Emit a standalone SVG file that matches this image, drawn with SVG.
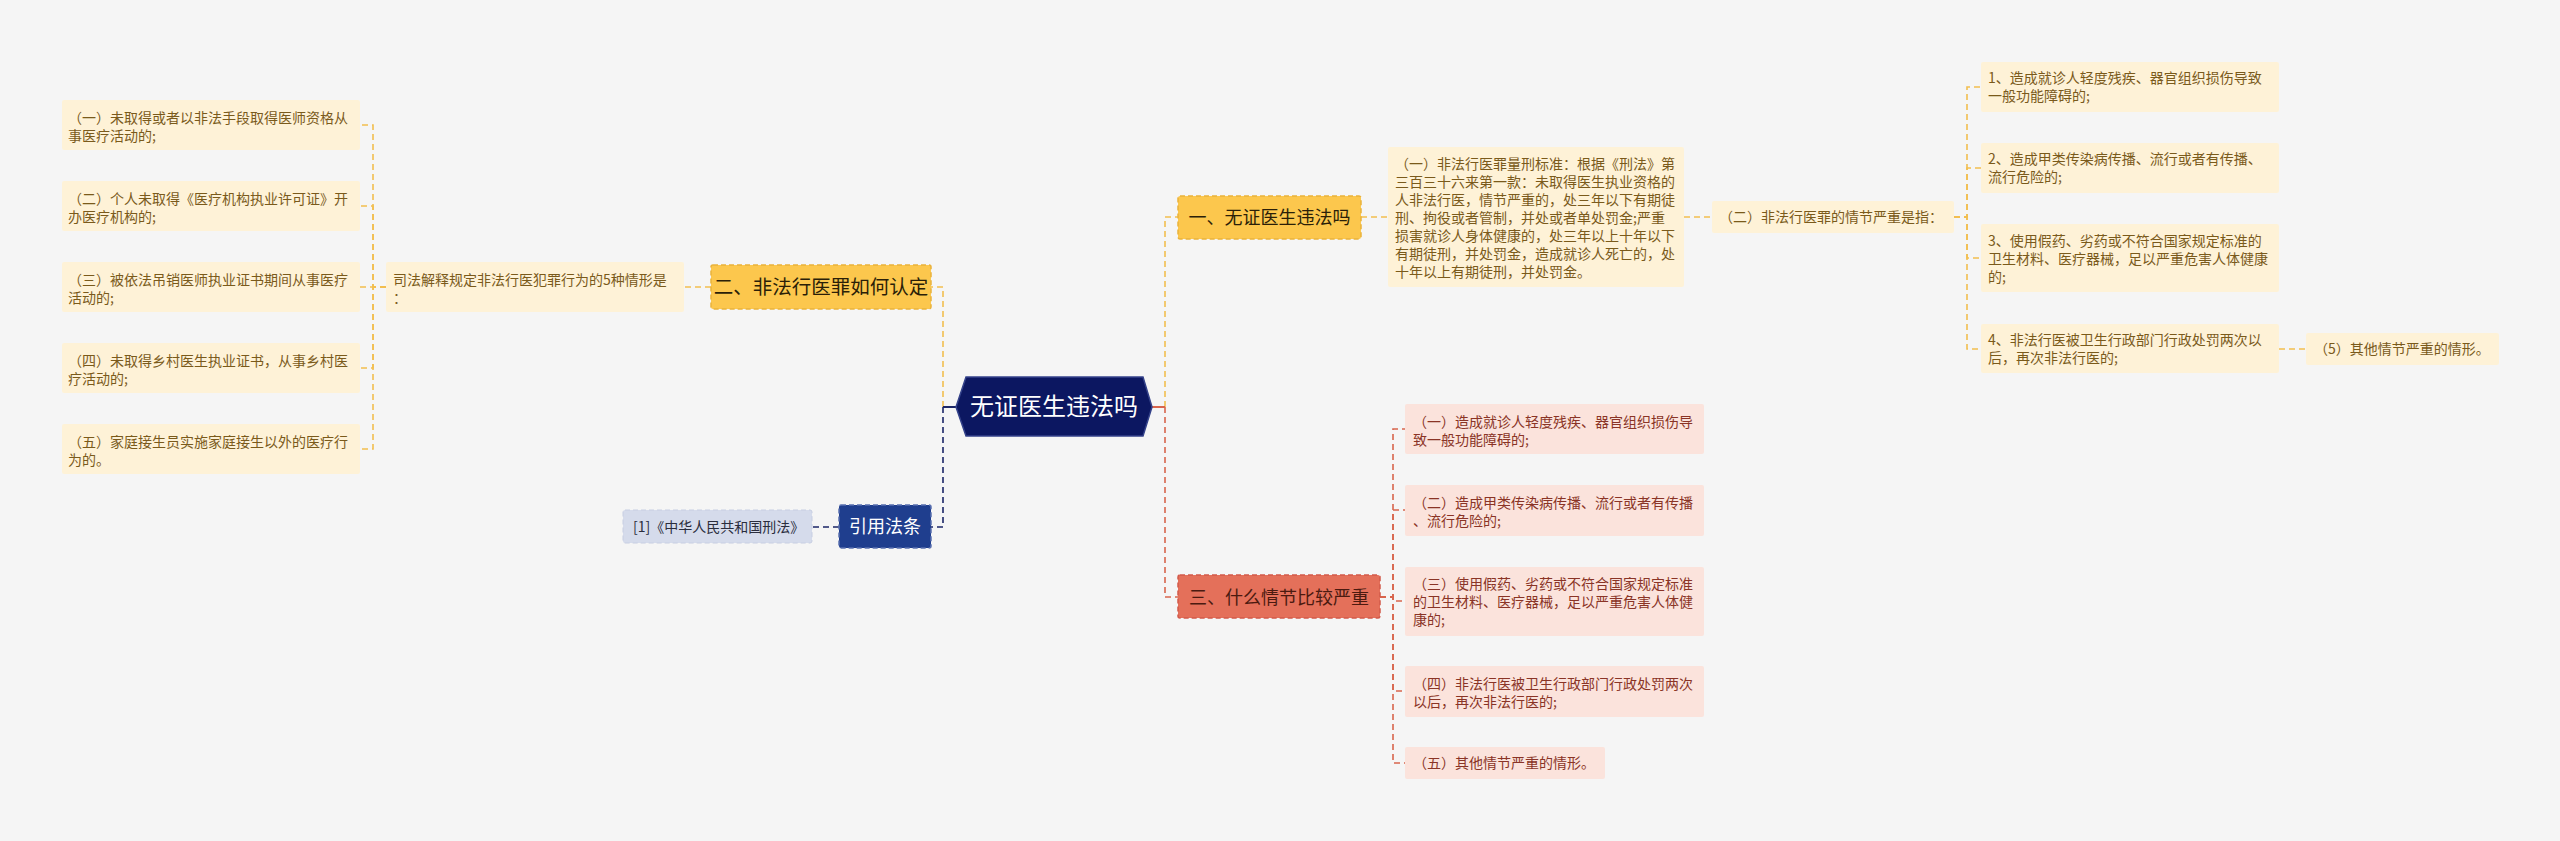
<svg xmlns="http://www.w3.org/2000/svg" width="2560" height="841" viewBox="0 0 2560 841">
<style>
text{font-family:"Noto Sans CJK SC","Microsoft YaHei",sans-serif;}
.bg{fill:#f5f5f5;}
.cy{fill:none;stroke:#f2bf4f;stroke-width:1.6;stroke-dasharray:6 4;}
.cr{fill:none;stroke:#d8654d;stroke-width:1.6;stroke-dasharray:6 4;}
.cn{fill:none;stroke:#1b2667;stroke-width:1.6;stroke-dasharray:6 4;}
.sn{fill:none;stroke:#1b2667;stroke-width:2;}
.sr{fill:none;stroke:#d8654d;stroke-width:2;}
.root{fill:#0c1761;stroke:#34428a;stroke-width:1.5;}
.rootT{fill:#ffffff;font-size:24px;}
.yb{fill:#fcc74d;stroke:#e9b23b;stroke-width:1.5;stroke-dasharray:5 3;}
.ybT{fill:#2b1f08;}
.rb{fill:#e4705a;stroke:#d2594a;stroke-width:1.5;stroke-dasharray:5 3;}
.rbT{fill:#4b1a10;font-size:18px;}
.nb{fill:#1f3e8e;stroke:#5a70b0;stroke-width:1.5;stroke-dasharray:5 3;}
.nbT{fill:#ffffff;font-size:18px;}
.refb{fill:#d5dbeb;stroke:#c7cee2;stroke-width:1;stroke-dasharray:5 3;}
.refT{fill:#2a2d3d;font-size:14px;}
.yl{fill:#fef2d7;}
.ylT{fill:#7a5a1b;font-size:14px;}
.pl{fill:#fbe3dc;}
.plT{fill:#8a3426;font-size:14px;}
</style>
<rect class="bg" x="0" y="0" width="2560" height="841"/>

<g id="connectors">
  <path class="cy" d="M943 407 V287 H931"/>
  <path class="cn" d="M943 407 V527 H931"/>
  <path class="sn" d="M943 407 H956"/>
  <path class="cy" d="M711 287 H684"/>
  <path class="cy" d="M386 287 H373 V125 H360"/>
  <path class="cy" d="M386 287 H373 V206 H360"/>
  <path class="cy" d="M386 287 H360"/>
  <path class="cy" d="M386 287 H373 V368 H360"/>
  <path class="cy" d="M386 287 H373 V449 H360"/>
  <path class="cn" d="M839 527 H812"/>
  <path class="cy" d="M1165 407 V217 H1178"/>
  <path class="cr" d="M1165 407 V597 H1178"/>
  <path class="sr" d="M1152 407 H1165"/>
  <path class="cy" d="M1361 217 H1388"/>
  <path class="cy" d="M1684 217 H1712"/>
  <path class="cy" d="M1954 217 H1967 V87 H1981"/>
  <path class="cy" d="M1954 217 H1967 V168 H1981"/>
  <path class="cy" d="M1954 217 H1967 V258 H1981"/>
  <path class="cy" d="M1954 217 H1967 V349 H1981"/>
  <path class="cy" d="M2279 349 H2306"/>
  <path class="cr" d="M1380 597 H1393 V429 H1405"/>
  <path class="cr" d="M1380 597 H1393 V510 H1405"/>
  <path class="cr" d="M1380 597 H1393 V601 H1405"/>
  <path class="cr" d="M1380 597 H1393 V691 H1405"/>
  <path class="cr" d="M1380 597 H1393 V763 H1405"/>
</g>

<g id="root">
  <polygon class="root" points="956,407 966,377 1143,377 1152,407 1143,436 966,436"/>
  <text class="rootT" x="1054" y="415" text-anchor="middle">无证医生违法吗</text>
</g>

<g id="n2">
  <rect class="yb" x="711" y="265" width="220" height="44" rx="2"/>
  <text class="ybT" x="821" y="294" text-anchor="middle" font-size="19.5">二、非法行医罪如何认定</text>
</g>
<g id="n2-mid">
  <rect class="yl" x="386" y="262" width="298" height="50" rx="2"/>
  <text class="ylT"><tspan x="393" y="285">司法解释规定非法行医犯罪行为的5种情形是</tspan><tspan x="393" y="303">：</tspan></text>
</g>
<g id="n2-1">
  <rect class="yl" x="62" y="100" width="298" height="50" rx="2"/>
  <text class="ylT"><tspan x="68" y="123">（一）未取得或者以非法手段取得医师资格从</tspan><tspan x="68" y="141">事医疗活动的;</tspan></text>
</g>
<g id="n2-2">
  <rect class="yl" x="62" y="181" width="298" height="50" rx="2"/>
  <text class="ylT"><tspan x="68" y="204">（二）个人未取得《医疗机构执业许可证》开</tspan><tspan x="68" y="222">办医疗机构的;</tspan></text>
</g>
<g id="n2-3">
  <rect class="yl" x="62" y="262" width="298" height="50" rx="2"/>
  <text class="ylT"><tspan x="68" y="285">（三）被依法吊销医师执业证书期间从事医疗</tspan><tspan x="68" y="303">活动的;</tspan></text>
</g>
<g id="n2-4">
  <rect class="yl" x="62" y="343" width="298" height="50" rx="2"/>
  <text class="ylT"><tspan x="68" y="366">（四）未取得乡村医生执业证书，从事乡村医</tspan><tspan x="68" y="384">疗活动的;</tspan></text>
</g>
<g id="n2-5">
  <rect class="yl" x="62" y="424" width="298" height="50" rx="2"/>
  <text class="ylT"><tspan x="68" y="447">（五）家庭接生员实施家庭接生以外的医疗行</tspan><tspan x="68" y="465">为的。</tspan></text>
</g>

<g id="n-ref">
  <rect class="nb" x="839" y="505" width="92" height="43" rx="2"/>
  <text class="nbT" x="885" y="533" text-anchor="middle">引用法条</text>
</g>
<g id="n-ref-1">
  <rect class="refb" x="623" y="510" width="189" height="33" rx="2"/>
  <text class="refT" x="633" y="532">[1]《中华人民共和国刑法》</text>
</g>

<g id="n1">
  <rect class="yb" x="1178" y="196" width="183" height="43" rx="2"/>
  <text class="ybT" x="1269.5" y="224" text-anchor="middle" font-size="18">一、无证医生违法吗</text>
</g>
<g id="n1-1">
  <rect class="yl" x="1388" y="147" width="296" height="140" rx="2"/>
  <text class="ylT"><tspan x="1395" y="169">（一）非法行医罪量刑标准：根据《刑法》第</tspan><tspan x="1395" y="187">三百三十六来第一款：未取得医生执业资格的</tspan><tspan x="1395" y="205">人非法行医，情节严重的，处三年以下有期徒</tspan><tspan x="1395" y="223">刑、拘役或者管制，并处或者单处罚金;严重</tspan><tspan x="1395" y="241">损害就诊人身体健康的，处三年以上十年以下</tspan><tspan x="1395" y="259">有期徒刑，并处罚金，造成就诊人死亡的，处</tspan><tspan x="1395" y="277">十年以上有期徒刑，并处罚金。</tspan></text>
</g>
<g id="n1-2">
  <rect class="yl" x="1712" y="201" width="242" height="32" rx="2"/>
  <text class="ylT" x="1719" y="222">（二）非法行医罪的情节严重是指：</text>
</g>
<g id="n1-2-1">
  <rect class="yl" x="1981" y="62" width="298" height="50" rx="2"/>
  <text class="ylT"><tspan x="1988" y="83">1、造成就诊人轻度残疾、器官组织损伤导致</tspan><tspan x="1988" y="101">一般功能障碍的;</tspan></text>
</g>
<g id="n1-2-2">
  <rect class="yl" x="1981" y="143" width="298" height="50" rx="2"/>
  <text class="ylT"><tspan x="1988" y="164">2、造成甲类传染病传播、流行或者有传播、</tspan><tspan x="1988" y="182">流行危险的;</tspan></text>
</g>
<g id="n1-2-3">
  <rect class="yl" x="1981" y="224" width="298" height="68" rx="2"/>
  <text class="ylT"><tspan x="1988" y="246">3、使用假药、劣药或不符合国家规定标准的</tspan><tspan x="1988" y="264">卫生材料、医疗器械，足以严重危害人体健康</tspan><tspan x="1988" y="282">的;</tspan></text>
</g>
<g id="n1-2-4">
  <rect class="yl" x="1981" y="324" width="298" height="49" rx="2"/>
  <text class="ylT"><tspan x="1988" y="345">4、非法行医被卫生行政部门行政处罚两次以</tspan><tspan x="1988" y="363">后，再次非法行医的;</tspan></text>
</g>
<g id="n1-2-5">
  <rect class="yl" x="2306" y="333" width="193" height="32" rx="2"/>
  <text class="ylT" x="2314" y="354">（5）其他情节严重的情形。</text>
</g>

<g id="n3">
  <rect class="rb" x="1178" y="575" width="202" height="43" rx="2"/>
  <text class="rbT" x="1279" y="603.5" text-anchor="middle">三、什么情节比较严重</text>
</g>
<g id="n3-1">
  <rect class="pl" x="1405" y="404" width="299" height="50" rx="2"/>
  <text class="plT"><tspan x="1413" y="427">（一）造成就诊人轻度残疾、器官组织损伤导</tspan><tspan x="1413" y="445">致一般功能障碍的;</tspan></text>
</g>
<g id="n3-2">
  <rect class="pl" x="1405" y="485" width="299" height="51" rx="2"/>
  <text class="plT"><tspan x="1413" y="508">（二）造成甲类传染病传播、流行或者有传播</tspan><tspan x="1413" y="526">、流行危险的;</tspan></text>
</g>
<g id="n3-3">
  <rect class="pl" x="1405" y="567" width="299" height="69" rx="2"/>
  <text class="plT"><tspan x="1413" y="589">（三）使用假药、劣药或不符合国家规定标准</tspan><tspan x="1413" y="607">的卫生材料、医疗器械，足以严重危害人体健</tspan><tspan x="1413" y="625">康的;</tspan></text>
</g>
<g id="n3-4">
  <rect class="pl" x="1405" y="666" width="299" height="51" rx="2"/>
  <text class="plT"><tspan x="1413" y="689">（四）非法行医被卫生行政部门行政处罚两次</tspan><tspan x="1413" y="707">以后，再次非法行医的;</tspan></text>
</g>
<g id="n3-5">
  <rect class="pl" x="1405" y="747" width="200" height="32" rx="2"/>
  <text class="plT" x="1413" y="768">（五）其他情节严重的情形。</text>
</g>
</svg>
